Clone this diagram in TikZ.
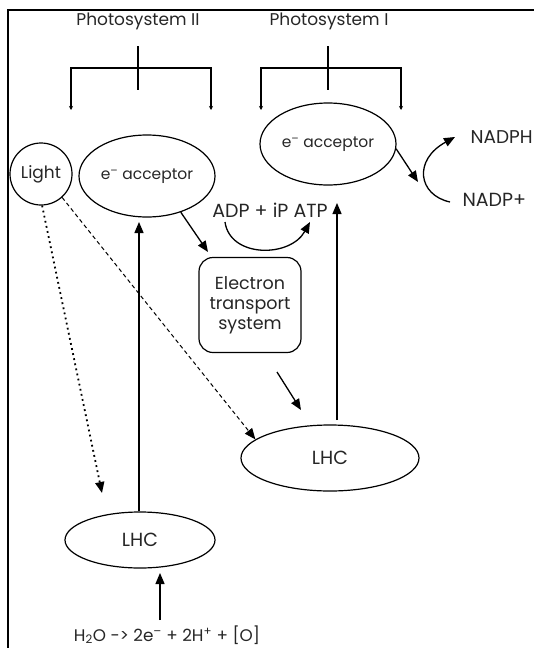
\documentclass[tikz,border=0pt]{standalone}
\usepackage{fontspec}
\setmainfont{Poppins}
\usetikzlibrary{arrows.meta,shapes.geometric}
\begin{document}
\begin{tikzpicture}[x=1pt,y=-1pt,
  every node/.style={font=\fontsize{17}{20}\selectfont, text=black!85},
  ell/.style={draw, ellipse, line width=1.2pt, inner sep=0pt},
  arr/.style={-{Triangle[length=11pt,width=9pt]}, line width=1.3pt},
  dotarr/.style={-{Triangle[length=11pt,width=9pt]}, line width=1.8pt, dash pattern=on 1.8pt off 3.4pt},
  dasharr/.style={-{Triangle[length=11pt,width=9pt]}, line width=1pt, dash pattern=on 4pt off 3pt},
  brk/.style={line width=1.2pt},
  brktip/.style={{Stealth[length=4pt,width=4pt]}-{Stealth[length=4pt,width=4pt]}, line width=1.2pt}
]
\useasboundingbox (0,0) rectangle (533,648);
% frame
\draw[line width=1.2pt] (540,10) -- (8,10) -- (8,650);

% titles
\node (ps2) at (138,21) {Photosystem II};
\node (ps1) at (329,21) {Photosystem I};

% brackets
\coordinate (b2s) at (138,46); \coordinate (b2e) at (138,90);
\coordinate (b2l) at (71,110); \coordinate (b2r) at (211,110);
\draw[brk] (b2s) -- (b2e);
\draw[brktip] (b2l) -- (71,68) -- (211,68) -- (b2r);
\coordinate (b1s) at (328,46); \coordinate (b1e) at (328,90);
\coordinate (b1l) at (261,110); \coordinate (b1r) at (401,110);
\draw[brk] (b1s) -- (b1e);
\draw[brktip] (b1l) -- (261,68) -- (401,68) -- (b1r);

% nodes
\node[ell, minimum width=136pt, minimum height=82pt, font=\fontsize{15.5}{18}\selectfont] (acc1) at (328,144) {e\textsuperscript{–} acceptor};
\node[ell, minimum width=136pt, minimum height=82pt, font=\fontsize{15.5}{18}\selectfont] (acc2) at (147,176) {e\textsuperscript{–} acceptor};
\node[draw, circle, line width=1.2pt, minimum size=62pt, inner sep=0pt] (light) at (41,174) {Light};
\node[draw, line width=1.2pt, rounded corners=14pt, minimum width=102pt, minimum height=95pt, align=center, font=\fontsize{17.5}{20}\selectfont] (ets) at (250,305) {Electron\\transport\\system};
\node[ell, minimum width=178pt, minimum height=66pt, font=\fontsize{19}{20}\selectfont] (lhc1) at (330,458) {LHC};
\node[ell, minimum width=150pt, minimum height=56pt, font=\fontsize{19}{20}\selectfont] (lhc2) at (140,540) {LHC};
\node[font=\fontsize{16.8}{18}\selectfont] (water) at (167,635) {H\textsubscript{2}O -> 2e\textsuperscript{–} + 2H\textsuperscript{+} + [O]};
\node[font=\fontsize{19}{20}\selectfont] (adp) at (270,210) {ADP + iP ATP};
\node[anchor=west, font=\fontsize{18.5}{20}\selectfont] (nadph) at (467,137) {NADPH};
\node[anchor=west, font=\fontsize{19}{20}\selectfont] (nadp) at (459,200) {NADP+};

% free-end coordinates
\coordinate (t1) at (208,252);
\coordinate (e1) at (277,372);
\coordinate (t2) at (301,410);
\coordinate (t3) at (418,182);
\coordinate (c1) at (450,202);
\coordinate (c2) at (455,137);
\coordinate (a1) at (225,222);
\coordinate (a2) at (310,222);
\coordinate (w1) at (160,620);
\coordinate (w2) at (160,573);
\coordinate (ld) at (102,493);
\coordinate (v1) at (139,511);
\coordinate (v1t) at (139,222);
\coordinate (v2) at (337,420);
\coordinate (v2t) at (337,203);

% connectors
\draw[arr] (v1) -- (v1t);
\draw[arr] (v2) -- (v2t);
\draw[arr] (acc2.-47) -- (t1);
\draw[arr] (e1) -- (t2);
\draw[arr] (acc1.-4) -- (t3);
\draw[arr] (c1) .. controls (418,195) and (413,160) .. (c2);
\draw[arr] (a1) .. controls (230,258) and (290,258) .. (a2);
\draw[arr] (w1) -- (w2);
\draw[dotarr] (light.-88) -- (ld);
\draw[dasharr] (light.-48) -- (lhc1.166);
\end{tikzpicture}
\end{document}
